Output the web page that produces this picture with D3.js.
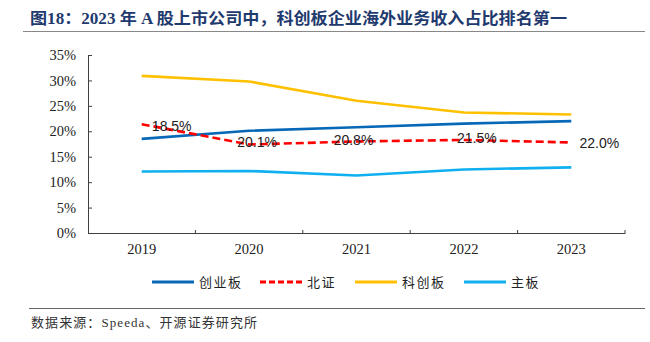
<!DOCTYPE html>
<html><head><meta charset="utf-8">
<script src="https://cdn.jsdelivr.net/npm/d3@7/dist/d3.min.js"></script>
<style>body{margin:0;background:#fff}svg{display:block}</style>
</head><body><svg id="c" width="650" height="342"></svg>
<script>
const title = "图18：2023 年 A 股上市公司中，科创板企业海外业务收入占比排名第一";
const source = "数据来源：Speeda、开源证券研究所";
const years = ["2019","2020","2021","2022","2023"];
const yTicks = [0,5,10,15,20,25,30,35];
const seriesNames = ["创业板","北证","科创板","主板"];
const chuangye = [18.5,20.1,20.8,21.5,22.0];
const beizheng = [21.4,17.4,18.0,18.3,17.8];
const kechuang = [30.9,29.8,26.0,23.7,23.3];
const zhuban = [12.1,12.2,11.3,12.5,12.9];
const labelValues = [18.5,20.1,20.8,21.5,22.0];

// layout / style (not data)
const colors = ["#0868b8","#ff0000","#ffc000","#10b0f0"];
const dashes = [null,"8,4",null,null];
const labelDx = [30,8,-3,13,28];
const labelDy = [-8,16,18,19,27];

const svg = d3.select("#c");
const m = {l:88, r:625, t:55, b:233};
const x = d3.scaleBand().domain(years).range([m.l,m.r]);
const y = d3.scaleLinear().domain([0,35]).range([m.b,m.t]);

// title
svg.append("text").attr("x",30).attr("y",24)
  .style("font-family","'Liberation Serif','Noto Sans CJK SC',serif")
  .style("font-weight","bold").style("font-size","16px").attr("fill","#1f3a6e")
  .attr("textLength",537).attr("lengthAdjust","spacingAndGlyphs").text(title);
svg.append("line").attr("x1",23).attr("x2",645).attr("y1",31.5).attr("y2",31.5)
  .attr("stroke","#888").attr("stroke-width",1.2);

// axes
const yAxis = d3.axisLeft(y).tickValues(yTicks).tickFormat(d=>d+"%").tickSizeInner(-4).tickSizeOuter(0).tickPadding(12);
const gy = svg.append("g").attr("transform",`translate(${m.l},0)`).call(yAxis);
gy.selectAll("text").style("font-family","'Liberation Serif',serif").style("font-size","14.5px").attr("fill","#222");
gy.selectAll("line,path").attr("stroke","#404040");

const xAxis = d3.axisBottom(x).tickSize(0).tickPadding(11);
const gx = svg.append("g").attr("transform",`translate(0,${m.b})`).call(xAxis);
gx.selectAll("text").style("font-family","'Liberation Serif',serif").style("font-size","14.5px").attr("fill","#222");
gx.select("path").attr("stroke","#404040");
const bounds = years.map(d=>x(d)).concat([x(years[years.length-1])+x.bandwidth()]).slice(1);
gx.selectAll(".bt").data(bounds).enter().append("line")
  .attr("x1",d=>d).attr("x2",d=>d).attr("y1",0).attr("y2",-3).attr("stroke","#404040");

// lines
const allSeries = [chuangye,beizheng,kechuang,zhuban];
const line = d3.line().x((d,i)=>x(years[i])+x.bandwidth()/2).y(d=>y(d));
[2,3,0,1].forEach(k=>{
  svg.append("path").datum(allSeries[k]).attr("d",line).attr("fill","none")
    .attr("stroke",colors[k]).attr("stroke-width",2.6)
    .attr("stroke-dasharray",dashes[k]);
});

// labels
svg.selectAll(".lab").data(labelValues).enter().append("text")
  .attr("x",(d,i)=>x(years[i])+x.bandwidth()/2+labelDx[i])
  .attr("y",(d,i)=>y(chuangye[i])+labelDy[i])
  .attr("text-anchor","middle").style("font-family","'Liberation Sans',sans-serif")
  .style("font-size","14px").attr("fill","#222").text(d=>d.toFixed(1)+"%");

// legend
const legX = [152,260,355,464];
seriesNames.forEach((n,k)=>{
  svg.append("line").attr("x1",legX[k]).attr("x2",legX[k]+42).attr("y1",282).attr("y2",282)
    .attr("stroke",colors[k]).attr("stroke-width",3).attr("stroke-dasharray",dashes[k]?"6,3":null);
  svg.append("text").attr("x",legX[k]+47).attr("y",286.5)
    .style("font-family","'Noto Sans CJK SC',sans-serif").style("font-size","13px")
    .attr("letter-spacing",1.5).attr("fill","#222").text(n);
});

// source
svg.append("line").attr("x1",29).attr("x2",645).attr("y1",308.5).attr("y2",308.5)
  .attr("stroke","#666").attr("stroke-width",1);
svg.append("text").attr("x",31).attr("y",327)
  .style("font-family","'Liberation Serif','Noto Sans CJK SC',serif").style("font-size","13px")
  .attr("textLength",226).attr("lengthAdjust","spacing")
  .attr("fill","#333").text(source);
</script></body></html>
